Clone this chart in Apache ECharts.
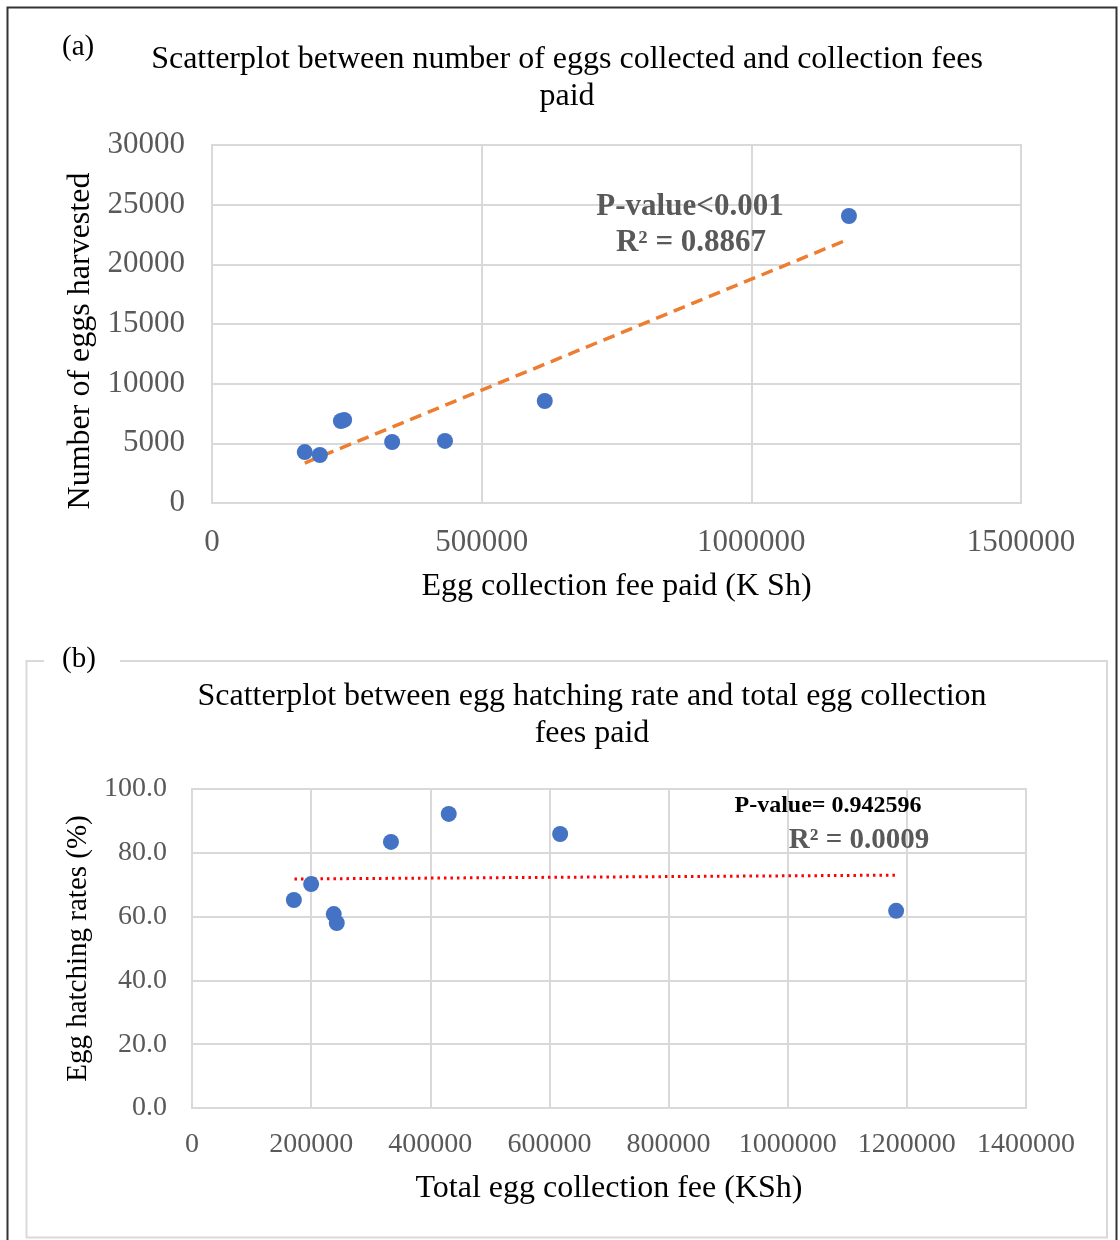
<!DOCTYPE html>
<html><head><meta charset="utf-8">
<script src="https://cdn.jsdelivr.net/npm/echarts@6/dist/echarts.min.js"></script>
<style>html,body{margin:0;padding:0;background:#fff}#c{width:1120px;height:1240px}</style>
</head><body><div id="c"></div>
<script>
// Panel (a)
const feeA = [172000, 200000, 239000, 245000, 334000, 432000, 617000, 1181000];
const eggsA = [4270, 4020, 6870, 6960, 5110, 5200, 8550, 24050];
const trendA = [[172000, 3350], [1181000, 22120]];
// Panel (b)
const feeB = [171000, 200000, 238000, 243000, 334000, 431000, 618000, 1182000];
const hatchB = [65.2, 70.2, 60.8, 58.0, 83.4, 92.2, 85.9, 61.8];
const trendB = [[172000, 71.8], [1182000, 73.0]];

const F = 'Liberation Serif, Times New Roman, serif';
const grey = '#595959';
const gridC = '#d9d9d9';

const chart = echarts.init(document.getElementById('c'));
chart.setOption({
  backgroundColor: '#fff',
  animation: false,
  title: [
    {text: 'Scatterplot between number of eggs collected and collection fees\npaid', left: 562, top: 36, textAlign: 'center',
     textStyle: {fontFamily: F, fontSize: 32, fontWeight: 'normal', color: '#000', lineHeight: 37}},
    {text: 'Scatterplot between egg hatching rate and total egg collection\nfees paid', left: 587, top: 673, textAlign: 'center',
     textStyle: {fontFamily: F, fontSize: 32, fontWeight: 'normal', color: '#000', lineHeight: 37}}
  ],
  grid: [
    {left: 212, top: 145, width: 809, height: 358, show: true, borderColor: gridC, borderWidth: 2},
    {left: 192, top: 789, width: 834, height: 319, show: true, borderColor: gridC, borderWidth: 2}
  ],
  xAxis: [
    {gridIndex: 0, type: 'value', min: 0, max: 1500000, interval: 500000,
     axisLine: {show: false}, axisTick: {show: false},
     splitLine: {lineStyle: {color: gridC, width: 2}},
     axisLabel: {fontFamily: F, fontSize: 31, color: grey, margin: 24, formatter: v => String(v)},
     name: 'Egg collection fee paid (K Sh)', nameLocation: 'middle', nameGap: 68,
     nameTextStyle: {fontFamily: F, fontSize: 32, color: '#000'}},
    {gridIndex: 1, type: 'value', min: 0, max: 1400000, interval: 200000,
     axisLine: {show: false}, axisTick: {show: false},
     splitLine: {lineStyle: {color: gridC, width: 2}},
     axisLabel: {fontFamily: F, fontSize: 28, color: grey, margin: 23, formatter: v => String(v)},
     name: 'Total egg collection fee (KSh)', nameLocation: 'middle', nameGap: 65,
     nameTextStyle: {fontFamily: F, fontSize: 32, color: '#000'}}
  ],
  yAxis: [
    {gridIndex: 0, type: 'value', min: 0, max: 30000, interval: 5000,
     axisLine: {show: false}, axisTick: {show: false},
     splitLine: {lineStyle: {color: gridC, width: 2}},
     axisLabel: {fontFamily: F, fontSize: 31, color: grey, margin: 27, padding: [3, 0, 0, 0], formatter: v => String(v)}},
    {gridIndex: 1, type: 'value', min: 0, max: 100, interval: 20,
     axisLine: {show: false}, axisTick: {show: false},
     splitLine: {lineStyle: {color: gridC, width: 2}},
     axisLabel: {fontFamily: F, fontSize: 28, color: grey, margin: 25, padding: [3, 0, 0, 0], formatter: v => v.toFixed(1)},
     name: 'Egg hatching rates (%)', nameLocation: 'middle', nameGap: 94,
     nameTextStyle: {fontFamily: F, fontSize: 29, color: '#000'}}
  ],
  series: [
    {type: 'line', xAxisIndex: 0, yAxisIndex: 0, data: trendA, symbol: 'none',
     lineStyle: {color: '#ED7D31', width: 3.5, type: [12, 7]}, z: 2},
    {type: 'scatter', xAxisIndex: 0, yAxisIndex: 0, data: feeA.map((x, i) => [x, eggsA[i]]),
     symbolSize: 16, itemStyle: {color: '#4472C4', opacity: 1}, z: 3},
    {type: 'line', xAxisIndex: 1, yAxisIndex: 1, data: trendB, symbol: 'none',
     lineStyle: {color: '#FF0000', width: 3, type: [2.5, 4]}, z: 2},
    {type: 'scatter', xAxisIndex: 1, yAxisIndex: 1, data: feeB.map((x, i) => [x, hatchB[i]]),
     symbolSize: 16, itemStyle: {color: '#4472C4', opacity: 1}, z: 3}
  ],
  graphic: [
    {type: 'rect', shape: {x: 7.5, y: 7.5, width: 1109, height: 1240}, style: {fill: null, stroke: '#333', lineWidth: 2}, silent: true, z: 0},
    {type: 'polyline', shape: {points: [[44, 661], [26.5, 661], [26.5, 1237.5], [1107, 1237.5], [1107, 661], [120, 661]]},
     style: {fill: null, stroke: gridC, lineWidth: 2}, silent: true, z: 0},
    {type: 'text', left: 62, top: 33, style: {text: '(a)', font: '29px ' + F, fill: '#000'}},
    {type: 'text', left: 62, top: 645, style: {text: '(b)', font: '29px ' + F, fill: '#000'}},
    {type: 'text', x: 81, y: 341, rotation: Math.PI / 2, style: {text: 'Number of eggs harvested', font: '32px ' + F, fill: '#000', align: 'center', verticalAlign: 'middle'}},
    {type: 'text', x: 690, y: 207, style: {text: 'P-value<0.001', font: 'bold 31px ' + F, fill: grey, align: 'center', verticalAlign: 'middle'}, z: 10},
    {type: 'text', x: 691, y: 243, style: {text: 'R² = 0.8867', font: 'bold 31px ' + F, fill: grey, align: 'center', verticalAlign: 'middle'}, z: 10},
    {type: 'text', x: 828, y: 806, style: {text: 'P-value= 0.942596', font: 'bold 24px ' + F, fill: '#000', align: 'center', verticalAlign: 'middle'}, z: 10},
    {type: 'text', x: 859, y: 841, style: {text: 'R² = 0.0009', font: 'bold 29px ' + F, fill: grey, align: 'center', verticalAlign: 'middle'}, z: 10}
  ]
});
</script></body></html>
